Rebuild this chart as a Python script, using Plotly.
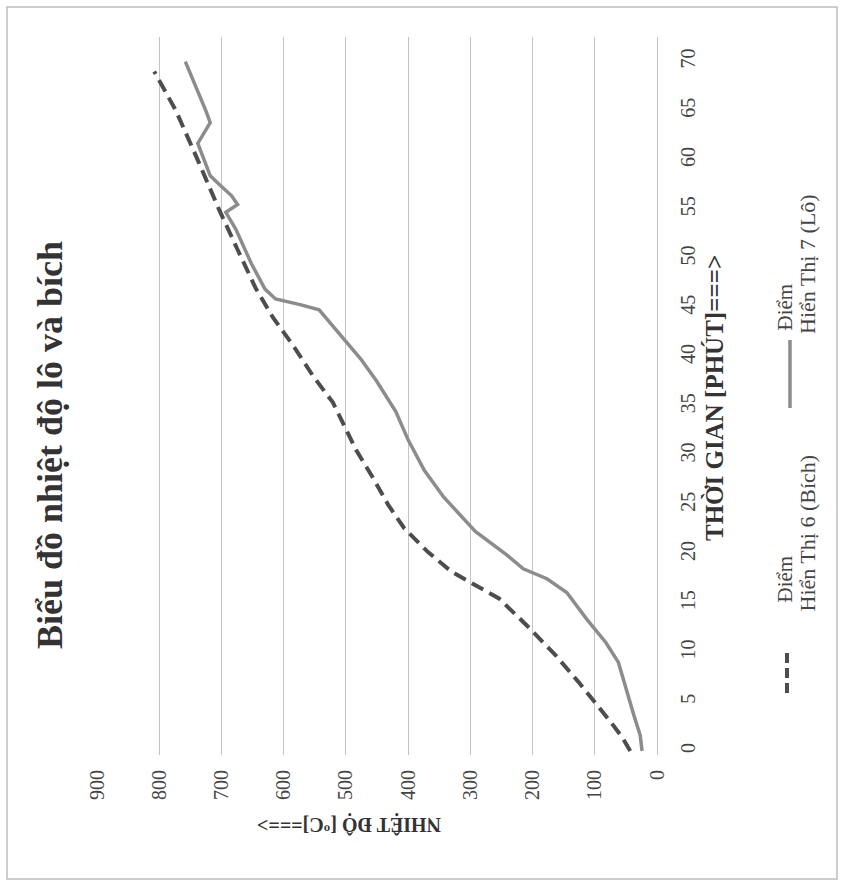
import plotly.graph_objects as go

# ---- data (time in minutes, temperature in °C) ----
time_bich = [0, 1.4, 3, 5, 7, 9.8, 12.8, 15.5, 17, 18.2, 20.2, 22.6, 25, 27.8, 30.5,
             33.6, 35.4, 38.1, 41.2, 44, 47, 50.9, 55, 60, 65, 69]
temp_bich = [43, 56, 75, 100, 126, 164, 210, 254, 295, 330, 368, 406, 432, 457, 483,
             508, 521, 553, 585, 617, 645, 674, 704, 738, 773, 808]

time_lo = [0, 1.6, 3.6, 6.3, 9, 11, 13.4, 16.1, 17.5, 18.5, 19.9, 22.3, 25.8, 28.5,
           31.6, 34.5, 37.6, 39.8, 42.2, 44.8, 45.3, 45.9, 46.9, 49.5, 53, 54.7,
           55.5, 56.4, 57.5, 58.4, 61.7, 63.8, 65, 70]
temp_lo = [24, 27, 37, 50, 62, 82, 113, 145, 177, 215, 241, 292, 343, 374,
           400, 420, 451, 476, 508, 543, 572, 613, 630, 652, 677, 693,
           674, 684, 703, 718, 738, 718, 725, 758]

temp_ticks = list(range(0, 1000, 100))
time_ticks = list(range(0, 75, 5))

title_text = "Biểu đồ nhiệt độ lô và bích"
x_title = "THỜI GIAN [PHÚT]===>"
y_title = "NHIỆT ĐỘ [ºC]===>"
name_line1 = "Điểm"
name_bich = "Hiển Thị 6 (Bích)"
name_lo = "Hiển Thị 7 (Lô)"

FONT = "Liberation Serif, Times New Roman, serif"
W, H = 843, 885
L, R, T, B = 97, 657, 37, 755  # plot area in pixels


def px(x):
    return (x - L) / (R - L)


def py(y):
    return (B - y) / (B - T)


fig = go.Figure()
fig.add_trace(go.Scatter(x=temp_bich, y=time_bich, mode="lines", name="bich",
                         line=dict(color="#4d4d4d", width=4, dash="13px,7px"),
                         showlegend=False))
fig.add_trace(go.Scatter(x=temp_lo, y=time_lo, mode="lines", name="lo",
                         line=dict(color="#8c8c8c", width=3.5),
                         showlegend=False))

fig.update_layout(
    width=W, height=H,
    margin=dict(l=L, r=W - R, t=T, b=H - B, pad=0),
    paper_bgcolor="white", plot_bgcolor="white",
    font=dict(family=FONT, color="#333333", size=20),
    xaxis=dict(range=[900, 0], tickvals=temp_ticks, tickangle=-90,
               showgrid=True, gridcolor="#c4c4c4", gridwidth=1,
               zeroline=True, zerolinecolor="#c4c4c4", zerolinewidth=1,
               showline=False, ticks="", ticklabelstandoff=10,
               tickfont=dict(family=FONT, size=20, color="#444444")),
    yaxis=dict(range=[-0.4, 72.5], tickvals=time_ticks, tickangle=-90, side="right",
               showgrid=False, zeroline=False, showline=False, ticks="",
               ticklabelstandoff=17,
               tickfont=dict(family=FONT, size=20, color="#444444")),
)

center = dict(xanchor="center", yanchor="middle")
bottom = dict(xanchor="center", yanchor="bottom")
ann = [
    dict(text="<b>" + title_text + "</b>", x=px(50), y=py(445), textangle=-90,
         font=dict(family=FONT, size=36, color="#333333"), **center),
    dict(text="<b>" + x_title + "</b>", x=px(715), y=py(398), textangle=-90,
         font=dict(family=FONT, size=25, color="#333333"), **center),
    dict(text="<b>" + y_title + "</b>", x=px(349), y=py(825), textangle=180,
         font=dict(family=FONT, size=20, color="#333333"), **center),
    dict(text=name_line1, x=px(784), y=py(605), textangle=-90,
         font=dict(family=FONT, size=21, color="#444444"), **bottom),
    dict(text=name_bich, x=px(807), y=py(614), textangle=-90,
         font=dict(family=FONT, size=22, color="#444444"), **bottom),
    dict(text=name_line1, x=px(784), y=py(333), textangle=-90,
         font=dict(family=FONT, size=21, color="#444444"), **bottom),
    dict(text=name_lo, x=px(807), y=py(336), textangle=-90,
         font=dict(family=FONT, size=22, color="#444444"), **bottom),
]
for a in ann:
    a.update(xref="paper", yref="paper", showarrow=False)
fig.update_layout(annotations=ann)

shapes = [
    dict(type="rect", xref="paper", yref="paper", x0=px(7), x1=px(837), y0=py(879), y1=py(7),
         line=dict(color="#bdbdbd", width=1.5)),
    dict(type="line", xref="paper", yref="paper", x0=px(787), x1=px(787), y0=py(693), y1=py(653),
         line=dict(color="#4d4d4d", width=4, dash="10px,5px")),
    dict(type="line", xref="paper", yref="paper", x0=px(790), x1=px(790), y0=py(408), y1=py(340),
         line=dict(color="#8c8c8c", width=3.5)),
]
fig.update_layout(shapes=shapes)

fig.write_html("out.html", config={"displayModeBar": False},
               post_script="document.body.style.margin='0';document.body.style.overflow='hidden';")
